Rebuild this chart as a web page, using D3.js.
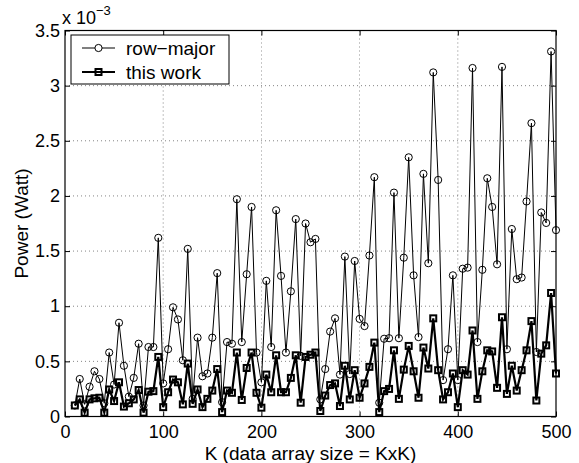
<!DOCTYPE html>
<html>
<head>
<meta charset="utf-8">
<script src="https://cdn.jsdelivr.net/npm/d3@7"></script>
<style>
  html, body { margin: 0; padding: 0; background: #fff; }
  svg { display: block; font-family: "Liberation Sans", Arial, Helvetica, sans-serif; }
</style>
</head>
<body>
<svg id="chart" width="579" height="463"></svg>
<script>
// ---- data (values in units of 1e-3 Watt) ----
const kValues = d3.range(10, 501, 5); // K = 10, 15, ..., 500
const rowMajor = [
  0.10, 0.34, 0.11, 0.27, 0.41, 0.34, 0.12, 0.58, 0.29, 0.85,
  0.46, 0.18, 0.35, 0.66, 0.10, 0.63, 0.63, 1.62, 0.30, 0.61,
  0.99, 0.88, 0.51, 1.52, 0.16, 0.715, 0.365, 0.39, 0.715, 1.30,
  0.13, 0.675, 0.66, 1.97, 0.675, 1.29, 1.90, 0.58, 0.31, 1.23,
  0.63, 1.87, 1.275, 0.58, 1.135, 1.79, 0.55, 1.75, 1.58, 1.61,
  0.155, 0.43, 0.77, 0.89, 0.38, 1.45, 0.385, 1.41, 0.885, 0.82,
  1.46, 2.17, 0.125, 0.705, 0.71, 2.03, 0.71, 1.44, 2.35, 1.28,
  0.72, 2.20, 1.39, 3.12, 2.145, 0.33, 0.61, 1.28, 0.33, 1.34,
  1.35, 3.16, 0.675, 1.33, 2.16, 1.90, 1.38, 3.17, 0.61, 1.70,
  1.245, 1.26, 1.95, 2.66, 0.585, 1.85, 1.755, 3.31, 1.69
];
const thisWork = [
  0.10, 0.155, 0.035, 0.155, 0.165, 0.17, 0.035, 0.245, 0.14, 0.31,
  0.09, 0.12, 0.155, 0.24, 0.035, 0.225, 0.23, 0.54, 0.085, 0.22,
  0.335, 0.31, 0.11, 0.48, 0.115, 0.245, 0.085, 0.16, 0.235, 0.43,
  0.04, 0.235, 0.215, 0.58, 0.15, 0.44, 0.58, 0.215, 0.08, 0.38,
  0.22, 0.555, 0.22, 0.22, 0.35, 0.555, 0.125, 0.54, 0.56, 0.58,
  0.05, 0.19, 0.285, 0.30, 0.095, 0.46, 0.155, 0.42, 0.17, 0.30,
  0.45, 0.67, 0.04, 0.23, 0.25, 0.60, 0.16, 0.425, 0.64, 0.41,
  0.17, 0.625, 0.435, 0.89, 0.42, 0.155, 0.22, 0.39, 0.085, 0.42,
  0.38, 0.78, 0.16, 0.41, 0.60, 0.59, 0.26, 0.90, 0.205, 0.46,
  0.235, 0.42, 0.60, 0.865, 0.145, 0.57, 0.645, 1.12, 0.39
];
const xTicks = [0, 100, 200, 300, 400, 500];
const yTicks = [0, 0.5, 1, 1.5, 2, 2.5, 3, 3.5];
const yTickLabels = ["0", "0.5", "1", "1.5", "2", "2.5", "3", "3.5"];
const seriesNames = ["row\u2212major", "this work"];

// ---- layout ----
const svg = d3.select("#chart");
const L = 65, R = 556, T = 30.5, B = 416.5;
const x = d3.scaleLinear().domain([0, 500]).range([L, R]);
const y = d3.scaleLinear().domain([0, 3.5]).range([B, T]);
const fsTick = 18, fsLeg = 19, fsLab = 19;

// grid
const grid = svg.append("g");
grid.selectAll("line.gx").data(xTicks.slice(1, -1)).join("line")
  .attr("x1", d => x(d)).attr("x2", d => x(d)).attr("y1", T).attr("y2", B)
  .attr("stroke", "#000").attr("stroke-width", 0.8).attr("stroke-dasharray", "1,3").attr("opacity", 0.6);
grid.selectAll("line.gy").data(yTicks.slice(1, -1)).join("line")
  .attr("y1", d => y(d)).attr("y2", d => y(d)).attr("x1", L).attr("x2", R)
  .attr("stroke", "#000").attr("stroke-width", 0.8).attr("stroke-dasharray", "1,3").attr("opacity", 0.6);

// axes
const xAxisB = d3.axisBottom(x).tickValues(xTicks).tickSize(-5).tickPadding(9).tickFormat(d3.format("d"));
const xAxisT = d3.axisTop(x).tickValues(xTicks).tickSize(-5).tickFormat("");
const yAxisL = d3.axisLeft(y).tickValues(yTicks).tickSize(-5).tickPadding(5).tickFormat((d, i) => yTickLabels[i]);
const yAxisR = d3.axisRight(y).tickValues(yTicks).tickSize(-5).tickFormat("");

function styleAxis(g) {
  g.select(".domain").remove();
  g.selectAll("line").attr("stroke", "#000").attr("stroke-width", 1);
  g.selectAll("text").attr("fill", "#000").style("font-size", fsTick + "px")
    .style("font-family", '"Liberation Sans", Arial, sans-serif');
}
svg.append("g").attr("transform", `translate(0,${B})`).call(xAxisB).call(styleAxis);
svg.append("g").attr("transform", `translate(0,${T})`).call(xAxisT).call(styleAxis);
svg.append("g").attr("transform", `translate(${L},0)`).call(yAxisL).call(styleAxis);
svg.append("g").attr("transform", `translate(${R},0)`).call(yAxisR).call(styleAxis);

// frame
svg.append("rect").attr("x", L).attr("y", T).attr("width", R - L).attr("height", B - T)
  .attr("fill", "none").attr("stroke", "#000").attr("stroke-width", 1.2);

// series
const rowData = kValues.map((k, i) => [k, rowMajor[i]]);
const workData = kValues.map((k, i) => [k, thisWork[i]]);
const line = d3.line().x(d => x(d[0])).y(d => y(d[1]));

svg.append("path").datum(rowData).attr("d", line)
  .attr("fill", "none").attr("stroke", "#000").attr("stroke-width", 1);
svg.append("g").selectAll("circle").data(rowData).join("circle")
  .attr("cx", d => x(d[0])).attr("cy", d => y(d[1])).attr("r", 3.6)
  .attr("fill", "none").attr("stroke", "#000").attr("stroke-width", 1);

svg.append("path").datum(workData).attr("d", line)
  .attr("fill", "none").attr("stroke", "#000").attr("stroke-width", 2.2);
svg.append("g").selectAll("rect").data(workData).join("rect")
  .attr("x", d => x(d[0]) - 3).attr("y", d => y(d[1]) - 3)
  .attr("width", 6).attr("height", 6)
  .attr("fill", "none").attr("stroke", "#000").attr("stroke-width", 2);

// exponent label
const ex = svg.append("text").attr("x", 62).attr("y", 24)
  .style("font-size", fsTick + "px").attr("fill", "#000");
ex.append("tspan").text("x 10");
ex.append("tspan").attr("dy", -9).style("font-size", "13px").text("\u22123");

// axis titles
svg.append("text").attr("x", (L + R) / 2).attr("y", 460).attr("text-anchor", "middle")
  .style("font-size", fsLab + "px").attr("fill", "#000").text("K (data array size = KxK)");
svg.append("text").attr("transform", `translate(28,${(T + B) / 2}) rotate(-90)`)
  .attr("text-anchor", "middle").style("font-size", fsLab + "px").attr("fill", "#000")
  .text("Power (Watt)");

// legend
const lg = svg.append("g");
lg.append("rect").attr("x", 71).attr("y", 35).attr("width", 158).attr("height", 49)
  .attr("fill", "#fff").attr("stroke", "#000").attr("stroke-width", 1);
const rows = [
  { name: seriesNames[0], yy: 48, sw: 1, marker: "circle" },
  { name: seriesNames[1], yy: 72, sw: 2.2, marker: "square" }
];
rows.forEach(r => {
  lg.append("line").attr("x1", 82).attr("x2", 115).attr("y1", r.yy).attr("y2", r.yy)
    .attr("stroke", "#000").attr("stroke-width", r.sw);
  if (r.marker === "circle") {
    lg.append("circle").attr("cx", 98.5).attr("cy", r.yy).attr("r", 3.6)
      .attr("fill", "#fff").attr("stroke", "#000").attr("stroke-width", 1);
  } else {
    lg.append("rect").attr("x", 98.5 - 3).attr("y", r.yy - 3).attr("width", 6).attr("height", 6)
      .attr("fill", "none").attr("stroke", "#000").attr("stroke-width", 2);
  }
  lg.append("text").attr("x", 126).attr("y", r.yy + 6.5).style("font-size", fsLeg + "px")
    .attr("fill", "#000").text(r.name);
});
</script>
</body>
</html>
